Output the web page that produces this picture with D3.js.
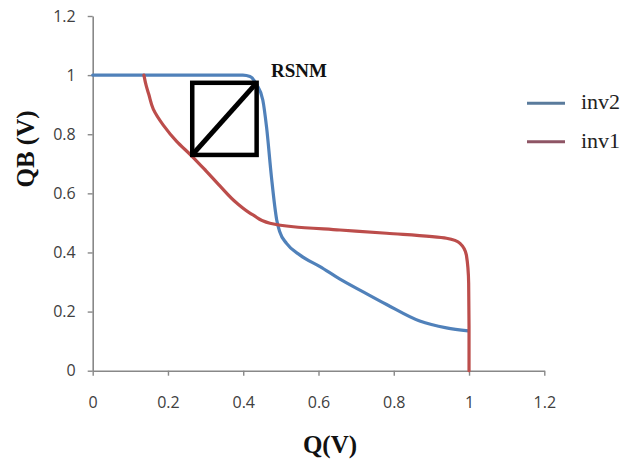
<!DOCTYPE html>
<html>
<head>
<meta charset="utf-8">
<script src="https://cdn.jsdelivr.net/npm/d3@7"></script>
<style>
  html, body { margin: 0; padding: 0; background: #fff; }
  svg { display: block; }
</style>
</head>
<body>
<svg id="chart" width="624" height="462"></svg>
<script>
// ---- data ----
const xTicks = [0, 0.2, 0.4, 0.6, 0.8, 1, 1.2];
const yTicks = [0, 0.2, 0.4, 0.6, 0.8, 1, 1.2];
const seriesNames = ["inv2", "inv1"];

const inv2Q  = [0, 0.2, 0.399, 0.418, 0.436, 0.452, 0.462, 0.475, 0.489, 0.497, 0.515, 0.551, 0.604, 0.657, 0.72, 0.781, 0.869, 0.94, 0.998];
const inv2QB = [1.0, 1.0, 1.0, 0.995, 0.967, 0.916, 0.824, 0.655, 0.51, 0.47, 0.431, 0.391, 0.352, 0.31, 0.266, 0.224, 0.168, 0.145, 0.135];

const inv1Q  = [0.136, 0.142, 0.149, 0.161, 0.188, 0.223, 0.262, 0.301, 0.338, 0.382, 0.427, 0.471, 0.533, 0.657, 0.781, 0.94, 0.976, 0.993, 0.999, 1.0, 1.0];
const inv1QB = [1.0, 0.965, 0.935, 0.885, 0.83, 0.776, 0.728, 0.676, 0.625, 0.568, 0.526, 0.499, 0.487, 0.476, 0.465, 0.448, 0.431, 0.391, 0.297, 0.15, 0];

// RSNM square (data units): left, right, bottom, top
const rsnmBox = [0.2645, 0.4356, 0.730, 0.974];
const rsnmLabel = "RSNM";
const xTitle = "Q(V)";
const yTitle = "QB (V)";

// ---- drawing ----
const svg = d3.select("#chart");
const x = d3.scaleLinear().domain([0, 1.2]).range([92.7, 544.3]);
const y = d3.scaleLinear().domain([0, 1.2]).range([370.7, 16]);

const fmt = d => d === 0 ? "0" : (d === 1 ? "1" : d3.format(".1f")(d));

const axisColor = "#888";
const labelColor = "#404040";

const gx = svg.append("g").attr("transform", `translate(0,${y(0)})`)
  .call(d3.axisBottom(x).tickValues(xTicks).tickFormat(fmt).tickSize(5).tickSizeOuter(0).tickPadding(21));
const gy = svg.append("g").attr("transform", `translate(${x(0)},0)`)
  .call(d3.axisLeft(y).tickValues(yTicks).tickFormat(fmt).tickSize(5).tickSizeOuter(0).tickPadding(12));

[gx, gy].forEach(g => {
  g.select(".domain").attr("stroke", axisColor).attr("stroke-width", 1.6);
  g.selectAll(".tick line").attr("stroke", axisColor).attr("stroke-width", 1.4);
  g.selectAll(".tick text").attr("fill", labelColor)
    .style("font-family", "'Open Sans', sans-serif").style("font-size", "16px");
});

const inv2 = inv2Q.map((q, i) => [q, inv2QB[i]]);
const inv1 = inv1Q.map((q, i) => [q, inv1QB[i]]).slice().reverse(); // ascending in QB

const lineX = d3.line().x(d => x(d[0])).y(d => y(d[1])).curve(d3.curveMonotoneX);
const lineY = d3.line().x(d => x(d[0])).y(d => y(d[1])).curve(d3.curveMonotoneY);

svg.append("path").datum(inv2).attr("d", lineX)
  .attr("fill", "none").attr("stroke", "#5081BA").attr("stroke-width", 3.2).attr("stroke-linecap", "round");
svg.append("path").datum(inv1).attr("d", lineY)
  .attr("fill", "none").attr("stroke", "#BC4D4B").attr("stroke-width", 3.2).attr("stroke-linecap", "round");

// RSNM box
const [bx0, bx1, by0, by1] = rsnmBox;
svg.append("rect")
  .attr("x", x(bx0)).attr("y", y(by1))
  .attr("width", x(bx1) - x(bx0)).attr("height", y(by0) - y(by1))
  .attr("fill", "none").attr("stroke", "#000").attr("stroke-width", 4.5);
svg.append("line")
  .attr("x1", x(bx0)).attr("y1", y(by0)).attr("x2", x(bx1)).attr("y2", y(by1))
  .attr("stroke", "#000").attr("stroke-width", 5);

svg.append("text").text(rsnmLabel)
  .attr("x", 271).attr("y", 77)
  .style("font-family", "'Liberation Serif', 'Times New Roman', serif")
  .style("font-weight", "bold").style("font-size", "19px").attr("fill", "#111");

// Axis titles
svg.append("text").text(xTitle)
  .attr("x", 330).attr("y", 453).attr("text-anchor", "middle")
  .style("font-family", "'Liberation Serif', 'Times New Roman', serif")
  .style("font-weight", "bold").style("font-size", "25px").attr("fill", "#111");
svg.append("text").text(yTitle)
  .attr("transform", "translate(34,149) rotate(-90)").attr("text-anchor", "middle")
  .style("font-family", "'Liberation Serif', 'Times New Roman', serif")
  .style("font-weight", "bold").style("font-size", "25px").attr("fill", "#111");

// Legend
const legendColors = ["#5A7B9C", "#8E5565"];
const legendY = [103.3, 141.7];
seriesNames.forEach((name, i) => {
  svg.append("line").attr("x1", 527).attr("x2", 565).attr("y1", legendY[i]).attr("y2", legendY[i])
    .attr("stroke", legendColors[i]).attr("stroke-width", 3);
  svg.append("text").text(name).attr("x", 581).attr("y", legendY[i] + 6)
    .style("font-family", "'Liberation Serif', 'Times New Roman', serif")
    .style("font-size", "22px").attr("fill", "#222");
});
</script>
</body>
</html>
